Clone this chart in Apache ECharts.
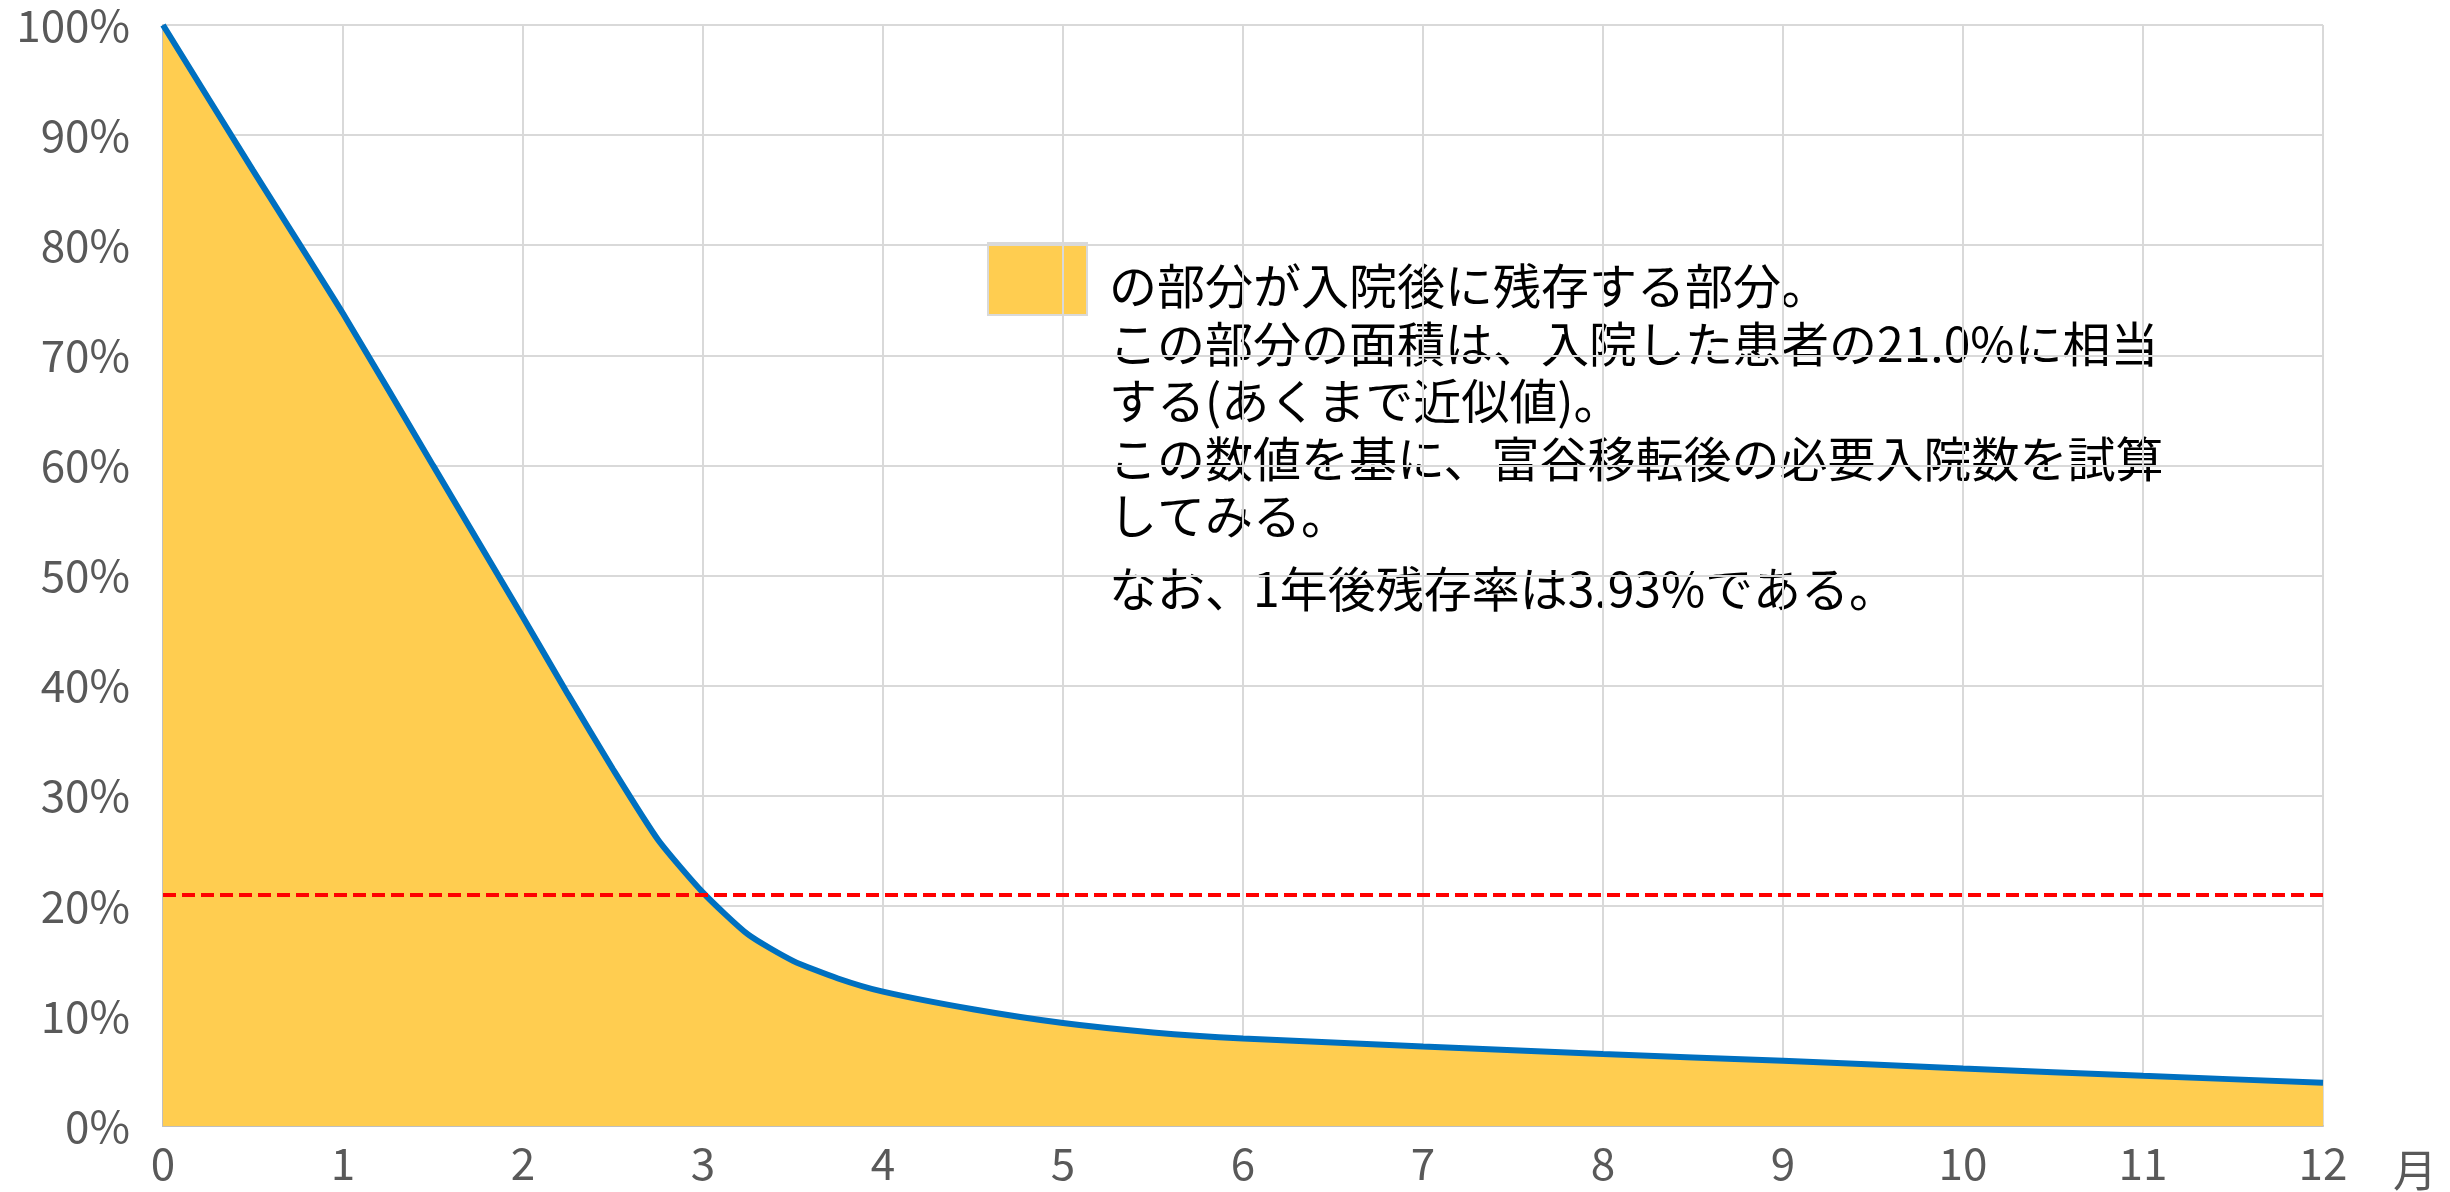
<!DOCTYPE html>
<html>
<head>
<meta charset="utf-8">
<script src="https://cdn.jsdelivr.net/npm/echarts@6/dist/echarts.min.js"></script>
<style>
  html, body { margin: 0; padding: 0; background: #ffffff; }
  #chart { width: 2450px; height: 1192px; }
</style>
</head>
<body>
<div id="chart"></div>
<script>
// Months after admission (x) and share of patients still hospitalised (%)
const months = [0, 0.5, 1, 1.5, 2, 2.25, 2.5, 2.75, 3, 3.25, 3.5, 3.75, 4, 4.5, 5, 5.5, 6, 7, 8, 9, 10, 11, 12];
const remaining = [100, 86.8, 73.8, 60.0, 46.2, 39.2, 32.4, 26.0, 21.2, 17.4, 15.0, 13.4, 12.2, 10.6, 9.35, 8.5, 7.95, 7.22, 6.53, 5.92, 5.23, 4.56, 3.93];

// Average level (area under the curve over one year)
const averageLevel = 21.0;

// Axis ticks
const xTicks = [0, 1, 2, 3, 4, 5, 6, 7, 8, 9, 10, 11, 12];
const yTicks = [0, 10, 20, 30, 40, 50, 60, 70, 80, 90, 100];
const xUnit = '月';

// Note text beside the coloured swatch
const noteLines = [
  'の部分が入院後に残存する部分。',
  'この部分の面積は、入院した患者の21.0%に相当',
  'する(あくまで近似値)。',
  'この数値を基に、富谷移転後の必要入院数を試算',
  'してみる。'
];
const noteFooter = 'なお、1年後残存率は3.93%である。';

const FONT = '"Noto Sans CJK JP", "Noto Sans", sans-serif';
const FILL = '#FFCD50';
const LINE = '#0070C0';

const chart = echarts.init(document.getElementById('chart'), null, { renderer: 'canvas' });

const seriesData = months.map((m, i) => [m, remaining[i]]);

// Note block layout
const noteX = 1109;
const noteTop = 286;
const noteStep = 57.5;
const noteFont = 48;
const graphics = [
  {
    type: 'rect',
    shape: { x: 988, y: 243, width: 99, height: 72 },
    style: { fill: FILL, stroke: '#D9D9D9', lineWidth: 2 },
    silent: true
  }
];
noteLines.forEach((t, i) => {
  graphics.push({
    type: 'text',
    x: noteX,
    y: noteTop + i * noteStep,
    style: { text: t, fontSize: noteFont, fontFamily: FONT, fill: '#000000', align: 'left', verticalAlign: 'middle' },
    silent: true
  });
});
graphics.push({
  type: 'text',
  x: noteX,
  y: noteTop + (noteLines.length - 1) * noteStep + 73,
  style: { text: noteFooter, fontSize: noteFont, fontFamily: FONT, fill: '#000000', align: 'left', verticalAlign: 'middle' },
  silent: true
});

chart.setOption({
  backgroundColor: '#ffffff',
  animation: false,
  textStyle: { fontFamily: FONT },
  grid: { left: 163, right: 127, top: 25, bottom: 65, containLabel: false },
  xAxis: {
    type: 'value',
    min: xTicks[0],
    max: xTicks[xTicks.length - 1],
    interval: 1,
    name: xUnit,
    nameLocation: 'end',
    nameGap: 70,
    nameTextStyle: { fontSize: 44, color: '#595959', fontFamily: FONT, verticalAlign: 'top', padding: [22, 0, 0, 0] },
    axisLine: { show: true, lineStyle: { color: '#BFBFBF', width: 2 } },
    axisTick: { show: false },
    axisLabel: { fontSize: 44, color: '#595959', margin: 15, fontFamily: FONT },
    splitLine: { show: true, lineStyle: { color: '#D9D9D9', width: 2 } }
  },
  yAxis: {
    type: 'value',
    min: yTicks[0],
    max: yTicks[yTicks.length - 1],
    interval: 10,
    axisLine: { show: true, lineStyle: { color: '#BFBFBF', width: 2 } },
    axisTick: { show: false },
    axisLabel: { fontSize: 44, color: '#595959', margin: 33, fontFamily: FONT, formatter: '{value}%' },
    splitLine: { show: true, lineStyle: { color: '#D9D9D9', width: 2 } }
  },
  series: [
    {
      type: 'line',
      data: seriesData,
      smooth: 0.2,
      showSymbol: false,
      symbol: 'none',
      lineStyle: { color: LINE, width: 6 },
      areaStyle: { color: FILL, opacity: 1 },
      z: 3,
      markLine: {
        silent: true,
        symbol: ['none', 'none'],
        label: { show: false },
        lineStyle: { color: '#FF0000', width: 4, type: [13, 6] },
        data: [{ yAxis: averageLevel }]
      }
    }
  ],
  graphic: graphics
});
</script>
</body>
</html>
